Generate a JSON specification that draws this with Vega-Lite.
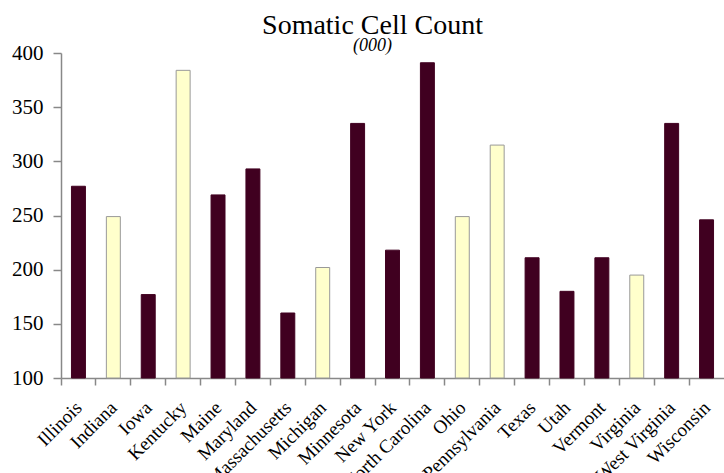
{
  "$schema": "https://vega.github.io/schema/vega-lite/v6.json",
  "autosize": "none",
  "width": 663,
  "height": 325,
  "padding": {"left": 61, "top": 53, "right": 0, "bottom": 95},
  "background": "white",
  "title": {
    "text": "Somatic Cell Count",
    "subtitle": "(000)",
    "anchor": "middle",
    "dx": -20,
    "offset": -13,
    "font": "Liberation Serif",
    "fontSize": 28,
    "fontWeight": "normal",
    "color": "black",
    "subtitleFont": "Liberation Serif",
    "subtitleFontSize": 18,
    "subtitleFontStyle": "italic",
    "subtitleColor": "black",
    "subtitlePadding": -3
  },
  "config": {
    "view": {"stroke": null},
    "axis": {"labelFont": "Liberation Serif", "labelColor": "black", "domainColor": "#888888", "tickColor": "#888888", "grid": false, "title": null}
  },
  "data": {
    "values": [
      {"state": "Illinois", "scc": 277, "group": "A"},
      {"state": "Indiana", "scc": 249, "group": "B"},
      {"state": "Iowa", "scc": 177, "group": "A"},
      {"state": "Kentucky", "scc": 384, "group": "B"},
      {"state": "Maine", "scc": 269, "group": "A"},
      {"state": "Maryland", "scc": 293, "group": "A"},
      {"state": "Massachusetts", "scc": 160, "group": "A"},
      {"state": "Michigan", "scc": 202, "group": "B"},
      {"state": "Minnesota", "scc": 335, "group": "A"},
      {"state": "New York", "scc": 218, "group": "A"},
      {"state": "North Carolina", "scc": 391, "group": "A"},
      {"state": "Ohio", "scc": 249, "group": "B"},
      {"state": "Pennsylvania", "scc": 315, "group": "B"},
      {"state": "Texas", "scc": 211, "group": "A"},
      {"state": "Utah", "scc": 180, "group": "A"},
      {"state": "Vermont", "scc": 211, "group": "A"},
      {"state": "Virginia", "scc": 195, "group": "B"},
      {"state": "West Virginia", "scc": 335, "group": "A"},
      {"state": "Wisconsin", "scc": 246, "group": "A"}
    ]
  },
  "mark": {"type": "bar", "strokeWidth": 1, "width": {"band": 0.4}},
  "encoding": {
    "x": {
      "field": "state", "type": "nominal", "sort": null,
      "scale": {"paddingInner": 0, "paddingOuter": 0},
      "axis": {"orient": "bottom", "ticks": true, "bandPosition": 0, "labelOffset": -6, "labelAngle": -45, "labelFont": "Liberation Serif", "labelFontSize": 19, "labelPadding": 13, "tickSize": 7, "tickWidth": 1.5, "domainWidth": 1.5, "labelOverlap": false, "labelBound": false}
    },
    "y": {
      "field": "scc", "type": "quantitative",
      "scale": {"domain": [100, 400], "zero": false, "nice": false},
      "axis": {"values": [100, 150, 200, 250, 300, 350, 400], "labelFont": "Liberation Serif", "labelFontSize": 21, "tickSize": 8, "tickWidth": 1.5, "labelPadding": 10, "domainWidth": 1.5}
    },
    "y2": {"datum": 100},
    "fill": {"field": "group", "type": "nominal", "scale": {"domain": ["A", "B"], "range": ["#400020", "#ffffcc"]}, "legend": null},
    "stroke": {"field": "group", "type": "nominal", "scale": {"domain": ["A", "B"], "range": ["#400020", "#999999"]}, "legend": null}
  }
}
